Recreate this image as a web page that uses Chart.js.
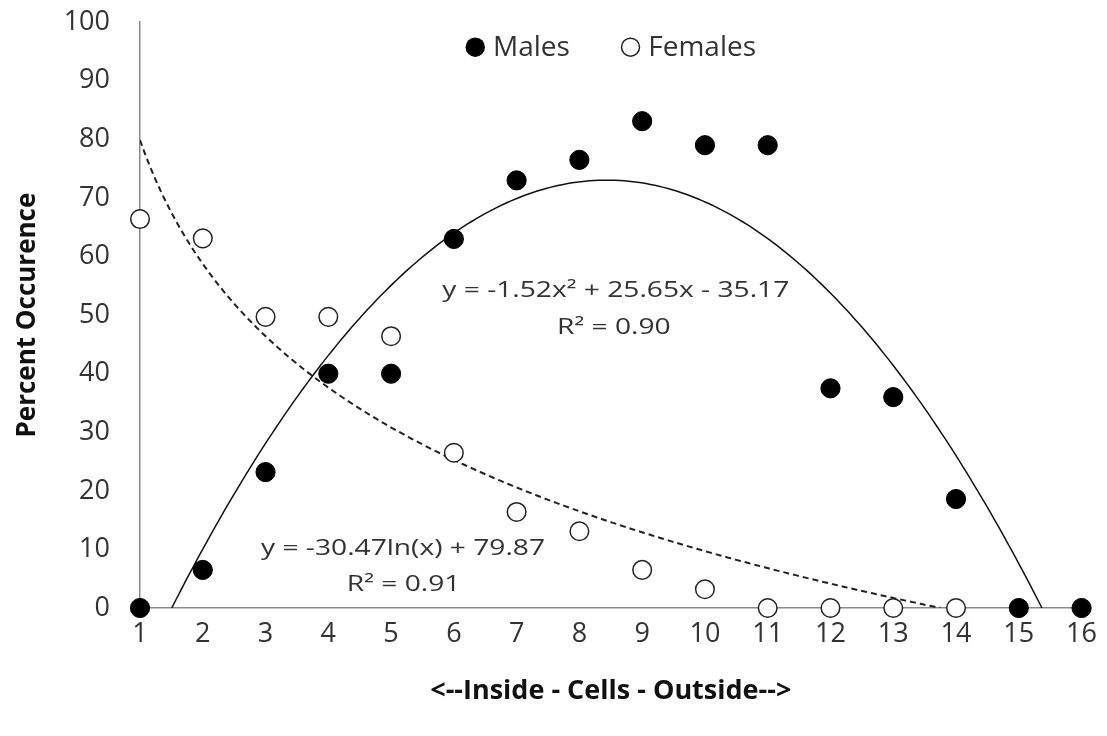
<!DOCTYPE html>
<html lang="en">
<head>
<meta charset="UTF-8">
<title>Percent Occurence by cell position</title>
<script src="https://cdn.jsdelivr.net/npm/chart.js"></script>
<style>
  body { margin: 0; background: #fff; }
</style>
</head>
<body>
<canvas id="occChart" width="1107" height="736"></canvas>
<script>
// cell position, inside -> outside
const cells = [1, 2, 3, 4, 5, 6, 7, 8, 9, 10, 11, 12, 13, 14, 15, 16];
const males = [0, 6.5, 23.2, 40, 40, 63, 73, 76.5, 83.1, 79, 79, 37.5, 36, 18.6, 0, 0];
const femaleCells = [1, 2, 3, 4, 5, 6, 7, 8, 9, 10, 11, 12, 13, 14];
const females = [66.4, 63.1, 49.7, 49.7, 46.4, 26.5, 16.4, 13.1, 6.5, 3.2, 0, 0, 0, 0];

// Excel trendline coefficients (as printed on the chart)
const malePoly = [-1.52, 25.65, -35.17];   // a*x^2 + b*x + c
const femaleLog = [-30.47, 79.87];         // a*ln(x) + b
const maleEq = ['y = -1.52x² + 25.65x - 35.17', 'R² = 0.90'];
const femaleEq = ['y = -30.47ln(x) + 79.87', 'R² = 0.91'];

const FONT = '"Open Sans", "DejaVu Sans", sans-serif';
const TXT = '#333333';

function toXY(xs, ys) {
    return xs.map((x, i) => ({ x: x, y: ys[i] }));
}

// sample a trendline between x0 and x1 (only the part above y = 0)
function sampleCurve(f, x0, x1, n) {
    const pts = [];
    for (let i = 0; i <= n; i++) {
        const x = x0 + (x1 - x0) * i / n;
        pts.push({ x: x, y: Math.max(f(x), 0) });
    }
    return pts;
}

const [pa, pb, pc] = malePoly;
const disc = Math.sqrt(pb * pb - 4 * pa * pc);
const polyLo = (-pb + disc) / (2 * pa);
const polyHi = (-pb - disc) / (2 * pa);
const polyLine = sampleCurve(x => pa * x * x + pb * x + pc, polyLo, polyHi, 200);

const logEnd = Math.min(Math.exp(-femaleLog[1] / femaleLog[0]), 16);
const logLine = sampleCurve(x => femaleLog[0] * Math.log(x) + femaleLog[1], 1, logEnd, 200);

// legend drawn inside the plot area, centred at the top
const topLegend = {
    id: 'topLegend',
    afterDraw(chart) {
        const { ctx, chartArea } = chart;
        ctx.save();
        ctx.font = '28px ' + FONT;
        ctx.textBaseline = 'middle';
        const r = 9.7, gap = 8, itemGap = 51;
        const wM = ctx.measureText('Males').width;
        const wF = ctx.measureText('Females').width;
        const total = 2 * r + gap + wM + itemGap + 2 * r + gap + wF;
        let x = (chartArea.left + chartArea.right) / 2 - total / 2;
        const y = chartArea.top + 25;

        ctx.beginPath();
        ctx.arc(x + r, y, r, 0, Math.PI * 2);
        ctx.fillStyle = '#000';
        ctx.fill();
        x += 2 * r + gap;
        ctx.fillStyle = TXT;
        ctx.fillText('Males', x, y + 1);
        x += wM + itemGap;

        ctx.beginPath();
        ctx.arc(x + r, y, r - 0.7, 0, Math.PI * 2);
        ctx.fillStyle = '#fff';
        ctx.fill();
        ctx.lineWidth = 1.5;
        ctx.strokeStyle = '#222';
        ctx.stroke();
        x += 2 * r + gap;
        ctx.fillStyle = TXT;
        ctx.fillText('Females', x, y + 1);
        ctx.restore();
    }
};

// trendline equations (text is a bit wide in the original, so stretch it)
const eqLabels = {
    id: 'eqLabels',
    afterDatasetsDraw(chart) {
        const { ctx, scales: { x, y } } = chart;
        const put = (txt, vx, vy) => {
            ctx.save();
            ctx.translate(x.getPixelForValue(vx), y.getPixelForValue(vy));
            ctx.scale(1.28, 1);
            ctx.fillText(txt, 0, 0);
            ctx.restore();
        };
        ctx.save();
        ctx.font = '22px ' + FONT;
        ctx.fillStyle = TXT;
        ctx.textAlign = 'center';
        ctx.textBaseline = 'middle';
        put(maleEq[0], 8.58, 54.2);
        put(maleEq[1], 8.55, 47.9);
        put(femaleEq[0], 5.19, 10.2);
        put(femaleEq[1], 5.2, 3.9);
        ctx.restore();
    }
};

new Chart(document.getElementById('occChart'), {
    type: 'scatter',
    data: {
        datasets: [
            {
                label: 'Males',
                data: toXY(cells, males),
                pointRadius: 9.6,
                pointBackgroundColor: '#000',
                pointBorderColor: '#000',
                pointBorderWidth: 1,
                clip: false,
                order: 1
            },
            {
                label: 'Females',
                data: toXY(femaleCells, females),
                pointRadius: 9.3,
                pointBackgroundColor: '#fff',
                pointBorderColor: '#222',
                pointBorderWidth: 1.5,
                clip: false,
                order: 1
            },
            {
                label: 'Males trend',
                data: polyLine,
                showLine: true,
                pointRadius: 0,
                borderColor: '#111',
                borderWidth: 1.5,
                order: 2
            },
            {
                label: 'Females trend',
                data: logLine,
                showLine: true,
                pointRadius: 0,
                borderColor: '#222',
                borderWidth: 2,
                borderDash: [6, 4],
                order: 2
            }
        ]
    },
    options: {
        responsive: false,
        animation: false,
        devicePixelRatio: 1,
        layout: { padding: { left: 0, right: 21, top: 22, bottom: 0 } },
        plugins: {
            legend: { display: false },
            tooltip: { enabled: false }
        },
        scales: {
            x: {
                type: 'linear',
                min: 1,
                max: 16,
                afterFit: s => { s.height = 128; },
                grid: { display: false, drawTicks: false },
                border: { display: true, color: '#8a8a8a', width: 1.5 },
                ticks: {
                    stepSize: 1,
                    padding: 10,
                    color: TXT,
                    font: { family: FONT, size: 27 }
                },
                title: {
                    display: true,
                    text: '<--Inside - Cells - Outside-->',
                    color: '#111',
                    font: { family: FONT, size: 27, weight: 'bold' },
                    padding: { top: 0, bottom: 28 }
                }
            },
            y: {
                min: 0,
                max: 100,
                afterFit: s => { s.width = 140; },
                // invisible tick marks keep the labels away from the axis line
                grid: { display: false, drawTicks: true, tickLength: 24 },
                border: { display: true, color: '#8a8a8a', width: 1.5 },
                ticks: {
                    stepSize: 10,
                    padding: 6,
                    color: TXT,
                    font: { family: FONT, size: 27 }
                },
                title: {
                    display: true,
                    text: 'Percent Occurence',
                    color: '#111',
                    font: { family: FONT, size: 26, weight: 'bold' },
                    padding: { top: 12, bottom: 0 }
                }
            }
        }
    },
    plugins: [topLegend, eqLabels]
});
</script>
</body>
</html>
